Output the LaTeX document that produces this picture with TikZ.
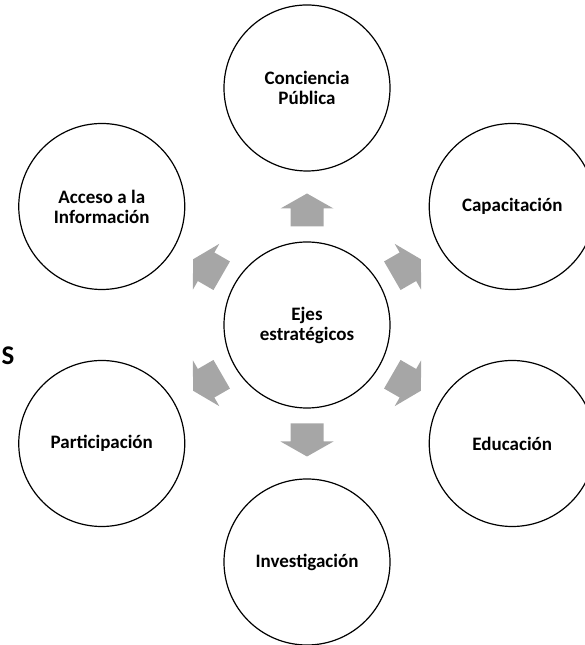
\documentclass[tikz,border=0pt]{standalone}
\usepackage{fontspec}
\setmainfont{Carlito}

\tikzset{
  eje/.style={circle, draw, line width=1.2pt, minimum size=166pt, inner sep=0pt,
    align=center, font=\bfseries\fontsize{19}{20}\selectfont},
  flecha/.style={fill=gray!70}
}

\begin{document}
\begin{tikzpicture}[x=1pt,y=1pt]
    \useasboundingbox (0,0) rectangle (584,645);

    \node[eje] (centro) at (307,320) {Ejes\\estratégicos};

    \foreach \a/\n/\t in {90/conciencia/{Conciencia\\Pública}, 30/capacitacion/Capacitación,
        -30/educacion/Educación, -90/investigacion/Investigación,
        -150/participacion/Participación, 150/acceso/{Acceso a la\\Información}} {
      \node[eje] (\n) at ([shift={(\a:237)}]centro.center) {\t};
    }

    \foreach \a in {90,30,-30,-90,-150,150} {
      \fill[flecha, shift={(307,320)}, rotate=\a]
        (98.5,-16.5) -- (116.5,-16.5) -- (116.5,-26.5) -- (131.5,0)
        -- (116.5,26.5) -- (116.5,16.5) -- (98.5,16.5) -- cycle;
    }

    \node[anchor=west, inner sep=0pt, font=\bfseries\fontsize{27}{30}\selectfont] (letra) at (1.5,289) {S};
  \end{tikzpicture}
\end{document}
